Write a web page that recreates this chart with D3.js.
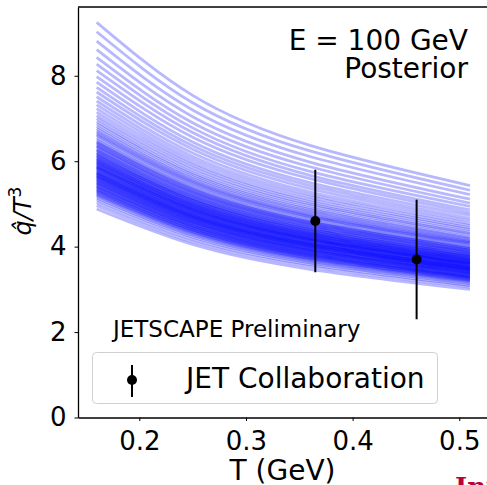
<!DOCTYPE html>
<html>
<head>
<meta charset="utf-8">
<script src="https://cdn.jsdelivr.net/npm/d3@7"></script>
<style>
  body { margin: 0; background: #fff; }
  svg { display: block; font-family: "DejaVu Sans", sans-serif; }
</style>
</head>
<body>
<svg id="chart" width="487" height="485"></svg>
<script>
// temperatures where each posterior curve is sampled
const tNodes = [0.16, 0.25, 0.36, 0.51];

// posterior curves of qhat/T^3, one row per sample (values at tNodes)
const posteriorCurves = [
  [4.88, 4.05, 3.47, 3.00], [4.96, 4.11, 3.53, 3.05], [5.03, 4.17, 3.58, 3.09],
  [5.09, 4.22, 3.62, 3.13], [5.14, 4.26, 3.65, 3.16], [5.18, 4.29, 3.68, 3.19],
  [5.21, 4.32, 3.70, 3.20], [5.23, 4.34, 3.72, 3.22], [5.25, 4.35, 3.73, 3.23],
  [5.28, 4.38, 3.75, 3.25], [5.30, 4.39, 3.77, 3.26], [5.31, 4.40, 3.78, 3.27],
  [5.33, 4.42, 3.79, 3.28], [5.35, 4.44, 3.80, 3.29], [5.37, 4.45, 3.82, 3.30],
  [5.39, 4.47, 3.83, 3.31], [5.40, 4.48, 3.84, 3.32], [5.42, 4.49, 3.85, 3.33],
  [5.44, 4.51, 3.87, 3.35], [5.46, 4.53, 3.88, 3.36], [5.48, 4.54, 3.90, 3.37],
  [5.49, 4.55, 3.90, 3.38], [5.51, 4.57, 3.92, 3.39], [5.52, 4.58, 3.92, 3.39],
  [5.54, 4.59, 3.94, 3.41], [5.56, 4.61, 3.95, 3.42], [5.57, 4.62, 3.96, 3.43],
  [5.59, 4.63, 3.97, 3.44], [5.61, 4.65, 3.99, 3.45], [5.62, 4.66, 4.00, 3.46],
  [5.64, 4.68, 4.01, 3.47], [5.65, 4.68, 4.02, 3.47], [5.66, 4.69, 4.02, 3.48],
  [5.68, 4.71, 4.04, 3.49], [5.69, 4.72, 4.05, 3.50], [5.71, 4.73, 4.06, 3.51],
  [5.72, 4.74, 4.07, 3.52], [5.73, 4.75, 4.07, 3.52], [5.75, 4.77, 4.09, 3.54],
  [5.76, 4.78, 4.10, 3.54], [5.78, 4.79, 4.11, 3.55], [5.80, 4.81, 4.12, 3.57],
  [5.82, 4.82, 4.14, 3.58], [5.83, 4.83, 4.15, 3.59], [5.85, 4.85, 4.16, 3.60],
  [5.86, 4.86, 4.17, 3.60], [5.87, 4.87, 4.17, 3.61], [5.89, 4.88, 4.19, 3.62],
  [5.90, 4.89, 4.19, 3.63], [5.92, 4.91, 4.21, 3.64], [5.94, 4.92, 4.22, 3.65],
  [5.95, 4.93, 4.23, 3.66], [5.97, 4.95, 4.24, 3.67], [5.98, 4.96, 4.25, 3.68],
  [6.00, 4.97, 4.27, 3.69], [6.02, 4.99, 4.28, 3.70], [6.03, 5.00, 4.29, 3.71],
  [6.05, 5.02, 4.30, 3.72], [6.07, 5.03, 4.32, 3.73], [6.08, 5.04, 4.32, 3.74],
  [6.11, 5.07, 4.34, 3.76], [6.13, 5.08, 4.36, 3.77], [6.14, 5.09, 4.37, 3.78],
  [6.17, 5.11, 4.39, 3.79], [6.19, 5.13, 4.40, 3.81], [6.20, 5.14, 4.41, 3.81],
  [6.24, 5.17, 4.44, 3.84], [6.26, 5.19, 4.45, 3.85], [6.27, 5.20, 4.46, 3.86],
  [6.31, 5.23, 4.49, 3.88], [6.34, 5.26, 4.51, 3.90], [6.36, 5.27, 4.52, 3.91],
  [6.38, 5.29, 4.54, 3.92], [6.42, 5.32, 4.56, 3.95], [6.44, 5.34, 4.58, 3.96],
  [6.46, 5.36, 4.59, 3.97], [6.50, 5.39, 4.62, 4.00], [6.55, 5.43, 4.66, 4.03],
  [6.60, 5.47, 4.69, 4.06],
  [6.63, 5.50, 4.71, 4.08], [6.67, 5.53, 4.74, 4.10], [6.71, 5.56, 4.76, 4.12],
  [6.76, 5.60, 4.80, 4.14], [6.81, 5.64, 4.83, 4.17], [6.87, 5.69, 4.87, 4.20],
  [6.93, 5.73, 4.91, 4.23], [7.00, 5.79, 4.96, 4.28], [7.07, 5.85, 5.00, 4.31],
  [7.15, 5.91, 5.05, 4.35], [7.23, 5.97, 5.10, 4.40], [7.32, 6.04, 5.16, 4.44],
  [7.41, 6.11, 5.22, 4.49], [7.51, 6.19, 5.28, 4.54], [7.62, 6.28, 5.36, 4.60],
  [7.73, 6.36, 5.43, 4.66], [7.85, 6.45, 5.50, 4.73], [7.98, 6.56, 5.59, 4.79],
  [8.12, 6.67, 5.67, 4.86], [8.27, 6.78, 5.76, 4.94], [8.43, 6.90, 5.87, 5.02],
  [8.61, 7.04, 5.98, 5.11], [8.81, 7.20, 6.11, 5.22], [9.03, 7.37, 6.24, 5.32],
  [9.25, 7.54, 6.37, 5.43]
];

// JET Collaboration points
const jetT = [0.365, 0.46];
const jetQ = [4.6, 3.7];
const jetLow = [3.4, 2.3];
const jetHigh = [5.8, 5.1];

const xTicks = [0.2, 0.3, 0.4, 0.5];
const yTicks = [0, 2, 4, 6, 8];

const svg = d3.select("#chart");
const W = +svg.attr("width");

const x = d3.scaleLinear().domain([0.1425, 0.526]).range([78, 487]);
const y = d3.scaleLinear().domain([0, 9.61]).range([417.5, 7]);

// posterior band
const line = d3.line()
  .x((d, i) => x(tNodes[i]))
  .y((d) => y(d))
  .curve(d3.curveNatural);

svg.append("g")
  .selectAll("path")
  .data(posteriorCurves)
  .join("path")
  .attr("d", line)
  .attr("fill", "none")
  .attr("stroke", "#0000ff")
  .attr("stroke-width", 2.8)
  .attr("stroke-opacity", 0.28);

// error bars
const pts = jetT.map((t, i) => ({ t: t, q: jetQ[i], lo: jetLow[i], hi: jetHigh[i] }));
const eb = svg.append("g");
eb.selectAll("line")
  .data(pts)
  .join("line")
  .attr("x1", (d) => x(d.t))
  .attr("x2", (d) => x(d.t))
  .attr("y1", (d) => y(d.lo))
  .attr("y2", (d) => y(d.hi))
  .attr("stroke", "#000")
  .attr("stroke-width", 2);
eb.selectAll("circle")
  .data(pts)
  .join("circle")
  .attr("cx", (d) => x(d.t))
  .attr("cy", (d) => y(d.q))
  .attr("r", 5)
  .attr("fill", "#000");

// axes
const xAxis = svg.append("g")
  .attr("transform", "translate(0,417.5)")
  .call(d3.axisBottom(x).tickValues(xTicks).tickFormat(d3.format(".1f"))
    .tickSize(3.5).tickSizeOuter(0).tickPadding(10.5));
const yAxis = svg.append("g")
  .attr("transform", "translate(78,0)")
  .call(d3.axisLeft(y).tickValues(yTicks).tickFormat(d3.format("d"))
    .tickSize(3.5).tickSizeOuter(0).tickPadding(8));

[xAxis, yAxis].forEach((g) => {
  g.select(".domain").attr("stroke", "#000").attr("stroke-width", 1.3);
  g.selectAll(".tick line").attr("stroke", "#000").attr("stroke-width", 1);
  g.selectAll(".tick text")
    .attr("fill", "#000")
    .style("font-family", "DejaVu Sans")
    .style("font-size", "26px");
});

// top spine
svg.append("line")
  .attr("x1", 78).attr("x2", W)
  .attr("y1", 7).attr("y2", 7)
  .attr("stroke", "#000").attr("stroke-width", 1.3);

// axis labels
svg.append("text")
  .attr("x", 282.5).attr("y", 480)
  .attr("text-anchor", "middle")
  .style("font-size", "28px")
  .text("T (GeV)");

const yl = svg.append("text")
  .attr("transform", "translate(31,211) rotate(-90)")
  .attr("text-anchor", "middle")
  .style("font-size", "24px");
yl.append("tspan").style("font-style", "italic").text("q\u0302/T");
yl.append("tspan").attr("dy", -10).style("font-size", "17px").text("3");

// annotations
svg.append("text")
  .attr("x", 468).attr("y", 50)
  .attr("text-anchor", "end")
  .style("font-size", "28px")
  .text("E = 100 GeV");
svg.append("text")
  .attr("x", 468).attr("y", 78)
  .attr("text-anchor", "end")
  .style("font-size", "28px")
  .text("Posterior");

svg.append("text")
  .attr("x", 113).attr("y", 337)
  .style("font-size", "23px")
  .text("JETSCAPE Preliminary");

// legend
const lg = svg.append("g");
lg.append("rect")
  .attr("x", 92.5).attr("y", 352.5)
  .attr("width", 345).attr("height", 51)
  .attr("rx", 4)
  .attr("fill", "#fff").attr("fill-opacity", 0.8)
  .attr("stroke", "#d0d0d0").attr("stroke-width", 1);
lg.append("line")
  .attr("x1", 132).attr("x2", 132)
  .attr("y1", 365).attr("y2", 397)
  .attr("stroke", "#000").attr("stroke-width", 2);
lg.append("circle")
  .attr("cx", 132).attr("cy", 380).attr("r", 5).attr("fill", "#000");
lg.append("text")
  .attr("x", 186).attr("y", 388)
  .style("font-size", "28px")
  .text("JET Collaboration");

// cut-off logo text at the corner
svg.append("text")
  .attr("x", 455).attr("y", 496)
  .style("font-size", "26px")
  .style("font-weight", "bold")
  .style("font-family", "DejaVu Serif")
  .attr("fill", "#b8003c")
  .text("Int");
</script>
</body>
</html>
